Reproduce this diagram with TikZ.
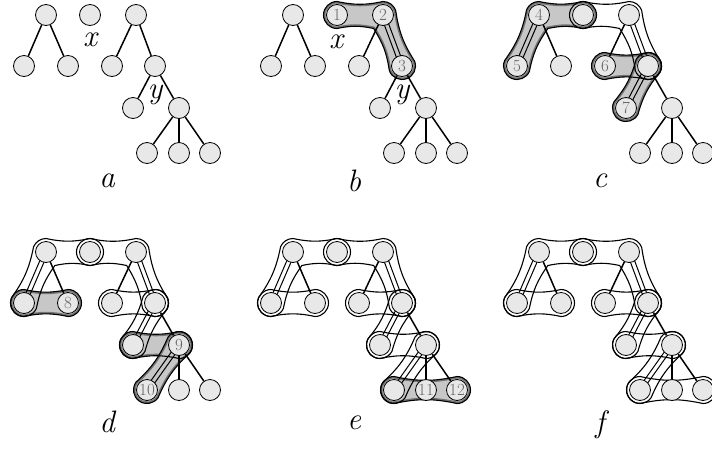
\documentclass[tikz,border=0pt]{standalone}
\usepackage{fontspec}
\usetikzlibrary{calc}

\definecolor{nodefill}{gray}{0.91}
\definecolor{shadefill}{gray}{0.78}
\definecolor{rimgrey}{gray}{0.45}
\definecolor{taggrey}{gray}{0.4}

\pgfdeclarelayer{hulls}
\pgfdeclarelayer{links}
\pgfsetlayers{hulls,links,main}

\tikzset{
  vertex/.style={circle, draw, fill=nodefill, line width=0.8pt, minimum size=21pt, inner sep=0pt},
  link/.style={line width=1.5pt},
  twin/.style={line width=1pt},
  hullline/.style={line width=1.1pt},
  hullrim/.style={draw=rimgrey, line width=4pt},
  tag/.style={text=taggrey, font=\fontsize{17}{17}\selectfont, inner sep=0pt},
  varlabel/.style={font=\fontsize{31}{31}\selectfont\itshape, inner sep=0pt},
  panellabel/.style={font=\fontsize{31}{31}\selectfont\itshape, inner sep=0pt}
}

\newcommand{\hullr}{13.5}
\newcommand{\waist}{12}
\newcommand{\hgap}{2.2pt}

% hull round two nodes
\newcommand{\twohull}[2]{let \p1=(#1.center), \p2=(#2.center),
  \n1={atan2(\y2-\y1,\x2-\x1)} in
  ($(#1.center)+(\n1+90:\hullr)$) to[bend right=\waist] ($(#2.center)+(\n1+90:\hullr)$)
  arc[start angle=\n1+90, delta angle=-180, radius=\hullr]
  to[bend right=\waist] ($(#1.center)+(\n1-90:\hullr)$)
  arc[start angle=\n1-90, delta angle=-180, radius=\hullr] -- cycle}

% hull round three nodes, turning right at the middle one
\newcommand{\threehull}[3]{let \p1=(#1.center), \p2=(#2.center), \p3=(#3.center),
  \n1={atan2(\y2-\y1,\x2-\x1)}, \n2={atan2(\y3-\y2,\x3-\x2)},
  \n3={\n2-\n1}, \n4={\hullr/cos(\n3/2)} in
  ($(#1.center)+(\n1+90:\hullr)$) to[bend right=\waist] ($(#2.center)+(\n1+90:\hullr)$)
  arc[start angle=\n1+90, delta angle=\n3, radius=\hullr]
  to[bend right=\waist] ($(#3.center)+(\n2+90:\hullr)$)
  arc[start angle=\n2+90, delta angle=-180, radius=\hullr]
  to[bend right=\waist] ($(#2.center)+(\n1-90+\n3/2:\n4)$)
  to[bend right=\waist] ($(#1.center)+(\n1-90:\hullr)$)
  arc[start angle=\n1-90, delta angle=-180, radius=\hullr] -- cycle}

\newcommand{\shadehull}[1]{%
  \fill[shadefill] #1;
  \begin{scope}
    \clip #1;
    \draw[hullrim] #1;
  \end{scope}}

\newcommand{\heavylink}[2]{%
  \draw[twin] ($(#1.center)!\hgap!90:(#2.center)$) -- ($(#2.center)!\hgap!-90:(#1.center)$);
  \draw[twin] ($(#1.center)!\hgap!-90:(#2.center)$) -- ($(#2.center)!\hgap!90:(#1.center)$);}

\newcommand{\plainlinks}[2]{\foreach \na/\nb in {#2} \draw[link] (#1\na) -- (#1\nb);}
\newcommand{\heavylinks}[2]{\foreach \na/\nb in {#2} \heavylink{#1\na}{#1\nb};}

\newcommand{\treenodes}[3]{%
  \foreach \nm/\px/\py in {r1/46/15, l1/24/66, l2/68/66, xn/90/15, r2/136/15,
      m1/112/66, yn/155/66, m2/133/108, m3/179/108, b1/147/153, b2/179/153, b3/210/153}
    \node[vertex] (#1\nm) at (\px,-\py) {};
  \node[panellabel] (#1lab) at (107,-#3) {#2};}

\begin{document}
\begin{tikzpicture}[x=1pt, y=1pt]
\useasboundingbox (0,0) rectangle (712,-453);

% the six stages
\begin{scope}\treenodes{a-}{a}{181}\end{scope}
\begin{scope}[shift={(247,0)}]\treenodes{b-}{b}{181}\end{scope}
\begin{scope}[shift={(493,0)}]\treenodes{c-}{c}{181}\end{scope}
\begin{scope}[shift={(0,-237)}]\treenodes{d-}{d}{185}\end{scope}
\begin{scope}[shift={(247,-237)}]\treenodes{e-}{e}{186}\end{scope}
\begin{scope}[shift={(493,-237)}]\treenodes{f-}{f}{188}\end{scope}

\node[varlabel] (a-xl) at (90,-40) {x};
\node[varlabel] (a-yl) at (155,-95) {y};
\node[varlabel] (b-xl) at (336,-42) {x};
\node[varlabel] (b-yl) at (402,-95) {y};

% order in which the nodes are taken
\foreach \nd/\txt in {b-xn/1, b-r2/2, b-yn/3, c-r1/4, c-l1/5, c-m1/6, c-m2/7,
    d-l2/8, d-m3/9, d-b1/10, e-b2/11, e-b3/12}
  \node[tag] (\nd-tag) at (\nd) {\txt};

\begin{pgfonlayer}{hulls}
  % new paths, shaded
  \shadehull{\threehull{b-xn}{b-r2}{b-yn}}
  \shadehull{\threehull{c-l1}{c-r1}{c-xn}}
  \shadehull{\twohull{c-m1}{c-yn}}
  \shadehull{\twohull{c-m2}{c-yn}}
  \shadehull{\twohull{d-l1}{d-l2}}
  \shadehull{\twohull{d-m2}{d-m3}}
  \shadehull{\twohull{d-m3}{d-b1}}
  \shadehull{\twohull{e-b1}{e-b3}}
  % outlines
  \draw[hullline] \threehull{b-xn}{b-r2}{b-yn};
  \foreach \s in {c,d,e,f}{
    \draw[hullline] \threehull{\s-xn}{\s-r2}{\s-yn};
    \draw[hullline] \threehull{\s-l1}{\s-r1}{\s-xn};
    \draw[hullline] \twohull{\s-m1}{\s-yn};
    \draw[hullline] \twohull{\s-m2}{\s-yn};}
  \foreach \s in {d,e,f}{
    \draw[hullline] \twohull{\s-l1}{\s-l2};
    \draw[hullline] \twohull{\s-m2}{\s-m3};
    \draw[hullline] \twohull{\s-m3}{\s-b1};}
  \foreach \s in {e,f}
    \draw[hullline] \twohull{\s-b1}{\s-b3};
\end{pgfonlayer}

\begin{pgfonlayer}{links}
  \plainlinks{a-}{r1/l1, r1/l2, r2/m1, r2/yn, yn/m2, yn/m3, m3/b1, m3/b2, m3/b3}
  \plainlinks{b-}{r1/l1, r1/l2, r2/m1, yn/m2, yn/m3, m3/b1, m3/b2, m3/b3}
  \heavylinks{b-}{r2/yn}
  \plainlinks{c-}{r1/l2, r2/m1, yn/m3, m3/b1, m3/b2, m3/b3}
  \heavylinks{c-}{r1/l1, r2/yn, yn/m2}
  \foreach \s in {d,e,f}{
    \plainlinks{\s-}{r1/l2, r2/m1, yn/m3, m3/b2, m3/b3}
    \heavylinks{\s-}{r1/l1, r2/yn, yn/m2, m3/b1}}
\end{pgfonlayer}
\end{tikzpicture}
\end{document}
